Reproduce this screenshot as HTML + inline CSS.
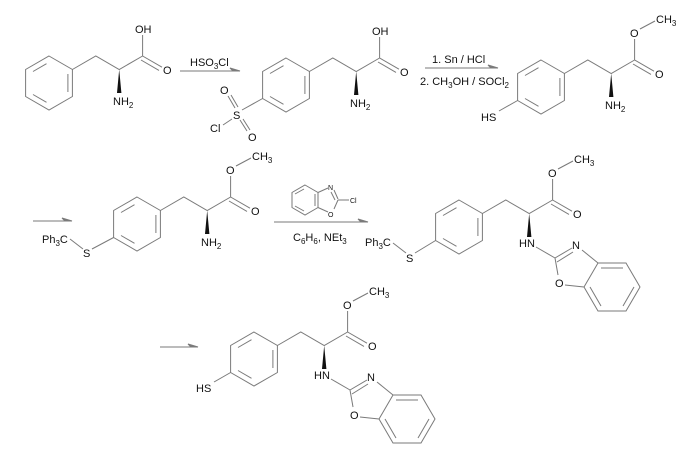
<!DOCTYPE html>
<html><head><meta charset="utf-8"><style>
html,body{margin:0;padding:0;background:#fff;}
svg{display:block;}
text{font-family:"Liberation Sans",Arial,sans-serif;font-size:11px;fill:#111;}
.s{font-size:8px;}
</style></head><body>
<svg width="700" height="463" viewBox="0 0 700 463" xmlns="http://www.w3.org/2000/svg">
<defs>
<g id="core" stroke="#7a7a7a" stroke-width="1" fill="none">
<polygon points="0,-27 23.4,-13.5 23.4,13.5 0,27 -23.4,13.5 -23.4,-13.5"/>
<line x1="-16" y1="-11.5" x2="-2.5" y2="-19.3"/>
<line x1="18.9" y1="-9" x2="18.9" y2="9"/>
<line x1="-2.5" y1="19.3" x2="-16" y2="11.5"/>
<polyline points="23.4,-13.5 46.8,-27 70.2,-13.5 93.6,-27"/>
<line x1="93.6" y1="-27" x2="113" y2="-15.8"/>
<line x1="92" y1="-23" x2="110" y2="-12.6"/>
<line x1="93.6" y1="-27" x2="93.6" y2="-48"/>
<polygon points="70.2,-13.5 68,10 72.4,10" fill="#111" stroke="none"/>
</g>
<g id="ester" stroke="#7a7a7a" stroke-width="1">
<line x1="99" y1="-58" x2="114" y2="-66"/>
</g>
<g id="bzx" stroke="#7a7a7a" stroke-width="1" fill="none">
<line x1="77" y1="20" x2="96" y2="31"/>
<line x1="96" y1="31" x2="113" y2="21"/>
<line x1="98" y1="35" x2="114" y2="25"/>
<line x1="123" y1="23" x2="139" y2="36"/>
<line x1="96" y1="31" x2="99" y2="48"/>
<line x1="106" y1="58" x2="125" y2="60"/>
<polygon points="125,60 139,36 167,36 181,60 167,84 139,84"/>
<line x1="142" y1="41" x2="164" y2="41"/>
<line x1="175" y1="60" x2="164" y2="79"/>
<line x1="142" y1="79" x2="131" y2="60"/>
</g>
</defs>

<!-- Arrows -->
<g stroke="#7a7a7a" stroke-width="1" fill="#7a7a7a">
<line x1="180" y1="71" x2="240" y2="71"/><polygon points="240,71 230,68 233,71"/>
<line x1="425" y1="68" x2="498" y2="68"/><polygon points="498,68 488,65 491,68"/>
<line x1="33" y1="221" x2="72" y2="221"/><polygon points="72,221 62,218 65,221"/>
<line x1="274" y1="222" x2="368" y2="222"/><polygon points="368,222 358,219 361,222"/>
<line x1="160" y1="347" x2="198" y2="347"/><polygon points="198,347 188,344 191,347"/>
</g>
<text x="190" y="66">HSO<tspan class="s" dy="3">3</tspan><tspan dy="-3">Cl</tspan></text>
<text x="432" y="63">1. Sn / HCl</text>
<text x="420" y="85">2. CH<tspan class="s" dy="3">3</tspan><tspan dy="-3">OH / SOCl</tspan><tspan class="s" dy="3">2</tspan></text>
<text x="293" y="241">C<tspan class="s" dy="3">6</tspan><tspan dy="-3">H</tspan><tspan class="s" dy="3">6</tspan><tspan dy="-3">, NEt</tspan><tspan class="s" dy="3">3</tspan></text>

<!-- reagent benzoxazole -->
<g stroke="#7a7a7a" stroke-width="1" fill="none">
<polygon points="305,185 318,192.5 318,207.5 305,215 292,207.5 292,192.5"/>
<line x1="295" y1="194" x2="304" y2="189"/>
<line x1="315" y1="194" x2="315" y2="206"/>
<line x1="304" y1="211" x2="295" y2="206"/>
<line x1="318" y1="192.5" x2="328" y2="188"/>
<line x1="334" y1="190" x2="338" y2="199"/><line x1="331" y1="192" x2="335" y2="200"/>
<line x1="338" y1="200" x2="334" y2="209"/>
<line x1="318" y1="207.5" x2="328" y2="212"/>
<line x1="338" y1="200" x2="349" y2="200"/>
</g>
<text x="328" y="190" style="font-size:7px">N</text>
<text x="328" y="217" style="font-size:7px">O</text>
<text x="350" y="203" style="font-size:7px">Cl</text>

<!-- Mol 1 -->
<g transform="translate(49,83)">
<use href="#core"/>
<text x="86" y="-50">OH</text>
<text x="114" y="-9">O</text>
<text x="64" y="22">NH<tspan class="s" dy="3">2</tspan></text>
</g>

<!-- Mol 2 -->
<g transform="translate(286,85)">
<use href="#core"/>
<text x="86" y="-50">OH</text>
<text x="114" y="-9">O</text>
<text x="64" y="22">NH<tspan class="s" dy="3">2</tspan></text>
<g stroke="#7a7a7a" stroke-width="1">
<line x1="-23.4" y1="13.5" x2="-44" y2="25"/>
<line x1="-51" y1="23" x2="-58" y2="11"/><line x1="-48" y1="22" x2="-55" y2="10"/>
<line x1="-46" y1="35" x2="-39" y2="46"/><line x1="-43" y1="34" x2="-36" y2="45"/>
<line x1="-54" y1="34" x2="-63" y2="40"/>
</g>
<text x="-53" y="34">S</text>
<text x="-66" y="9">O</text>
<text x="-38" y="56">O</text>
<text x="-76" y="47">Cl</text>
</g>

<!-- Mol 3 -->
<g transform="translate(541,87)">
<use href="#core"/><use href="#ester"/>
<text x="89" y="-50">O</text>
<text x="115" y="-64">CH<tspan class="s" dy="3">3</tspan></text>
<text x="114" y="-9">O</text>
<text x="64" y="22">NH<tspan class="s" dy="3">2</tspan></text>
<line x1="-23.4" y1="13.5" x2="-42" y2="24" stroke="#7a7a7a"/>
<text x="-60" y="34">HS</text>
</g>

<!-- Mol 4 -->
<g transform="translate(137,224)">
<use href="#core"/><use href="#ester"/>
<text x="89" y="-50">O</text>
<text x="115" y="-64">CH<tspan class="s" dy="3">3</tspan></text>
<text x="114" y="-9">O</text>
<text x="64" y="22">NH<tspan class="s" dy="3">2</tspan></text>
<g stroke="#7a7a7a" stroke-width="1">
<line x1="-23.4" y1="13.5" x2="-45" y2="25"/>
<line x1="-54" y1="25" x2="-67" y2="15"/>
</g>
<text x="-54" y="33">S</text>
<text x="-95" y="19">Ph<tspan class="s" dy="3">3</tspan><tspan dy="-3">C</tspan></text>
</g>

<!-- Mol 5 -->
<g transform="translate(459,227)">
<use href="#core"/><use href="#ester"/><use href="#bzx"/>
<text x="89" y="-50">O</text>
<text x="115" y="-64">CH<tspan class="s" dy="3">3</tspan></text>
<text x="114" y="-9">O</text>
<text x="60" y="20">HN</text>
<text x="113" y="22">N</text>
<text x="96" y="60">O</text>
<g stroke="#7a7a7a" stroke-width="1">
<line x1="-23.4" y1="13.5" x2="-44" y2="26"/>
<line x1="-53" y1="26" x2="-66" y2="16"/>
</g>
<text x="-53" y="35">S</text>
<text x="-94" y="19">Ph<tspan class="s" dy="3">3</tspan><tspan dy="-3">C</tspan></text>
</g>

<!-- Mol 6 -->
<g transform="translate(254,359)">
<use href="#core"/><use href="#ester"/><use href="#bzx"/>
<text x="89" y="-50">O</text>
<text x="115" y="-64">CH<tspan class="s" dy="3">3</tspan></text>
<text x="114" y="-9">O</text>
<text x="60" y="20">HN</text>
<text x="113" y="22">N</text>
<text x="96" y="60">O</text>
<line x1="-23.4" y1="13.5" x2="-40" y2="23" stroke="#7a7a7a"/>
<text x="-58" y="33">HS</text>
</g>
</svg>
</body></html>
